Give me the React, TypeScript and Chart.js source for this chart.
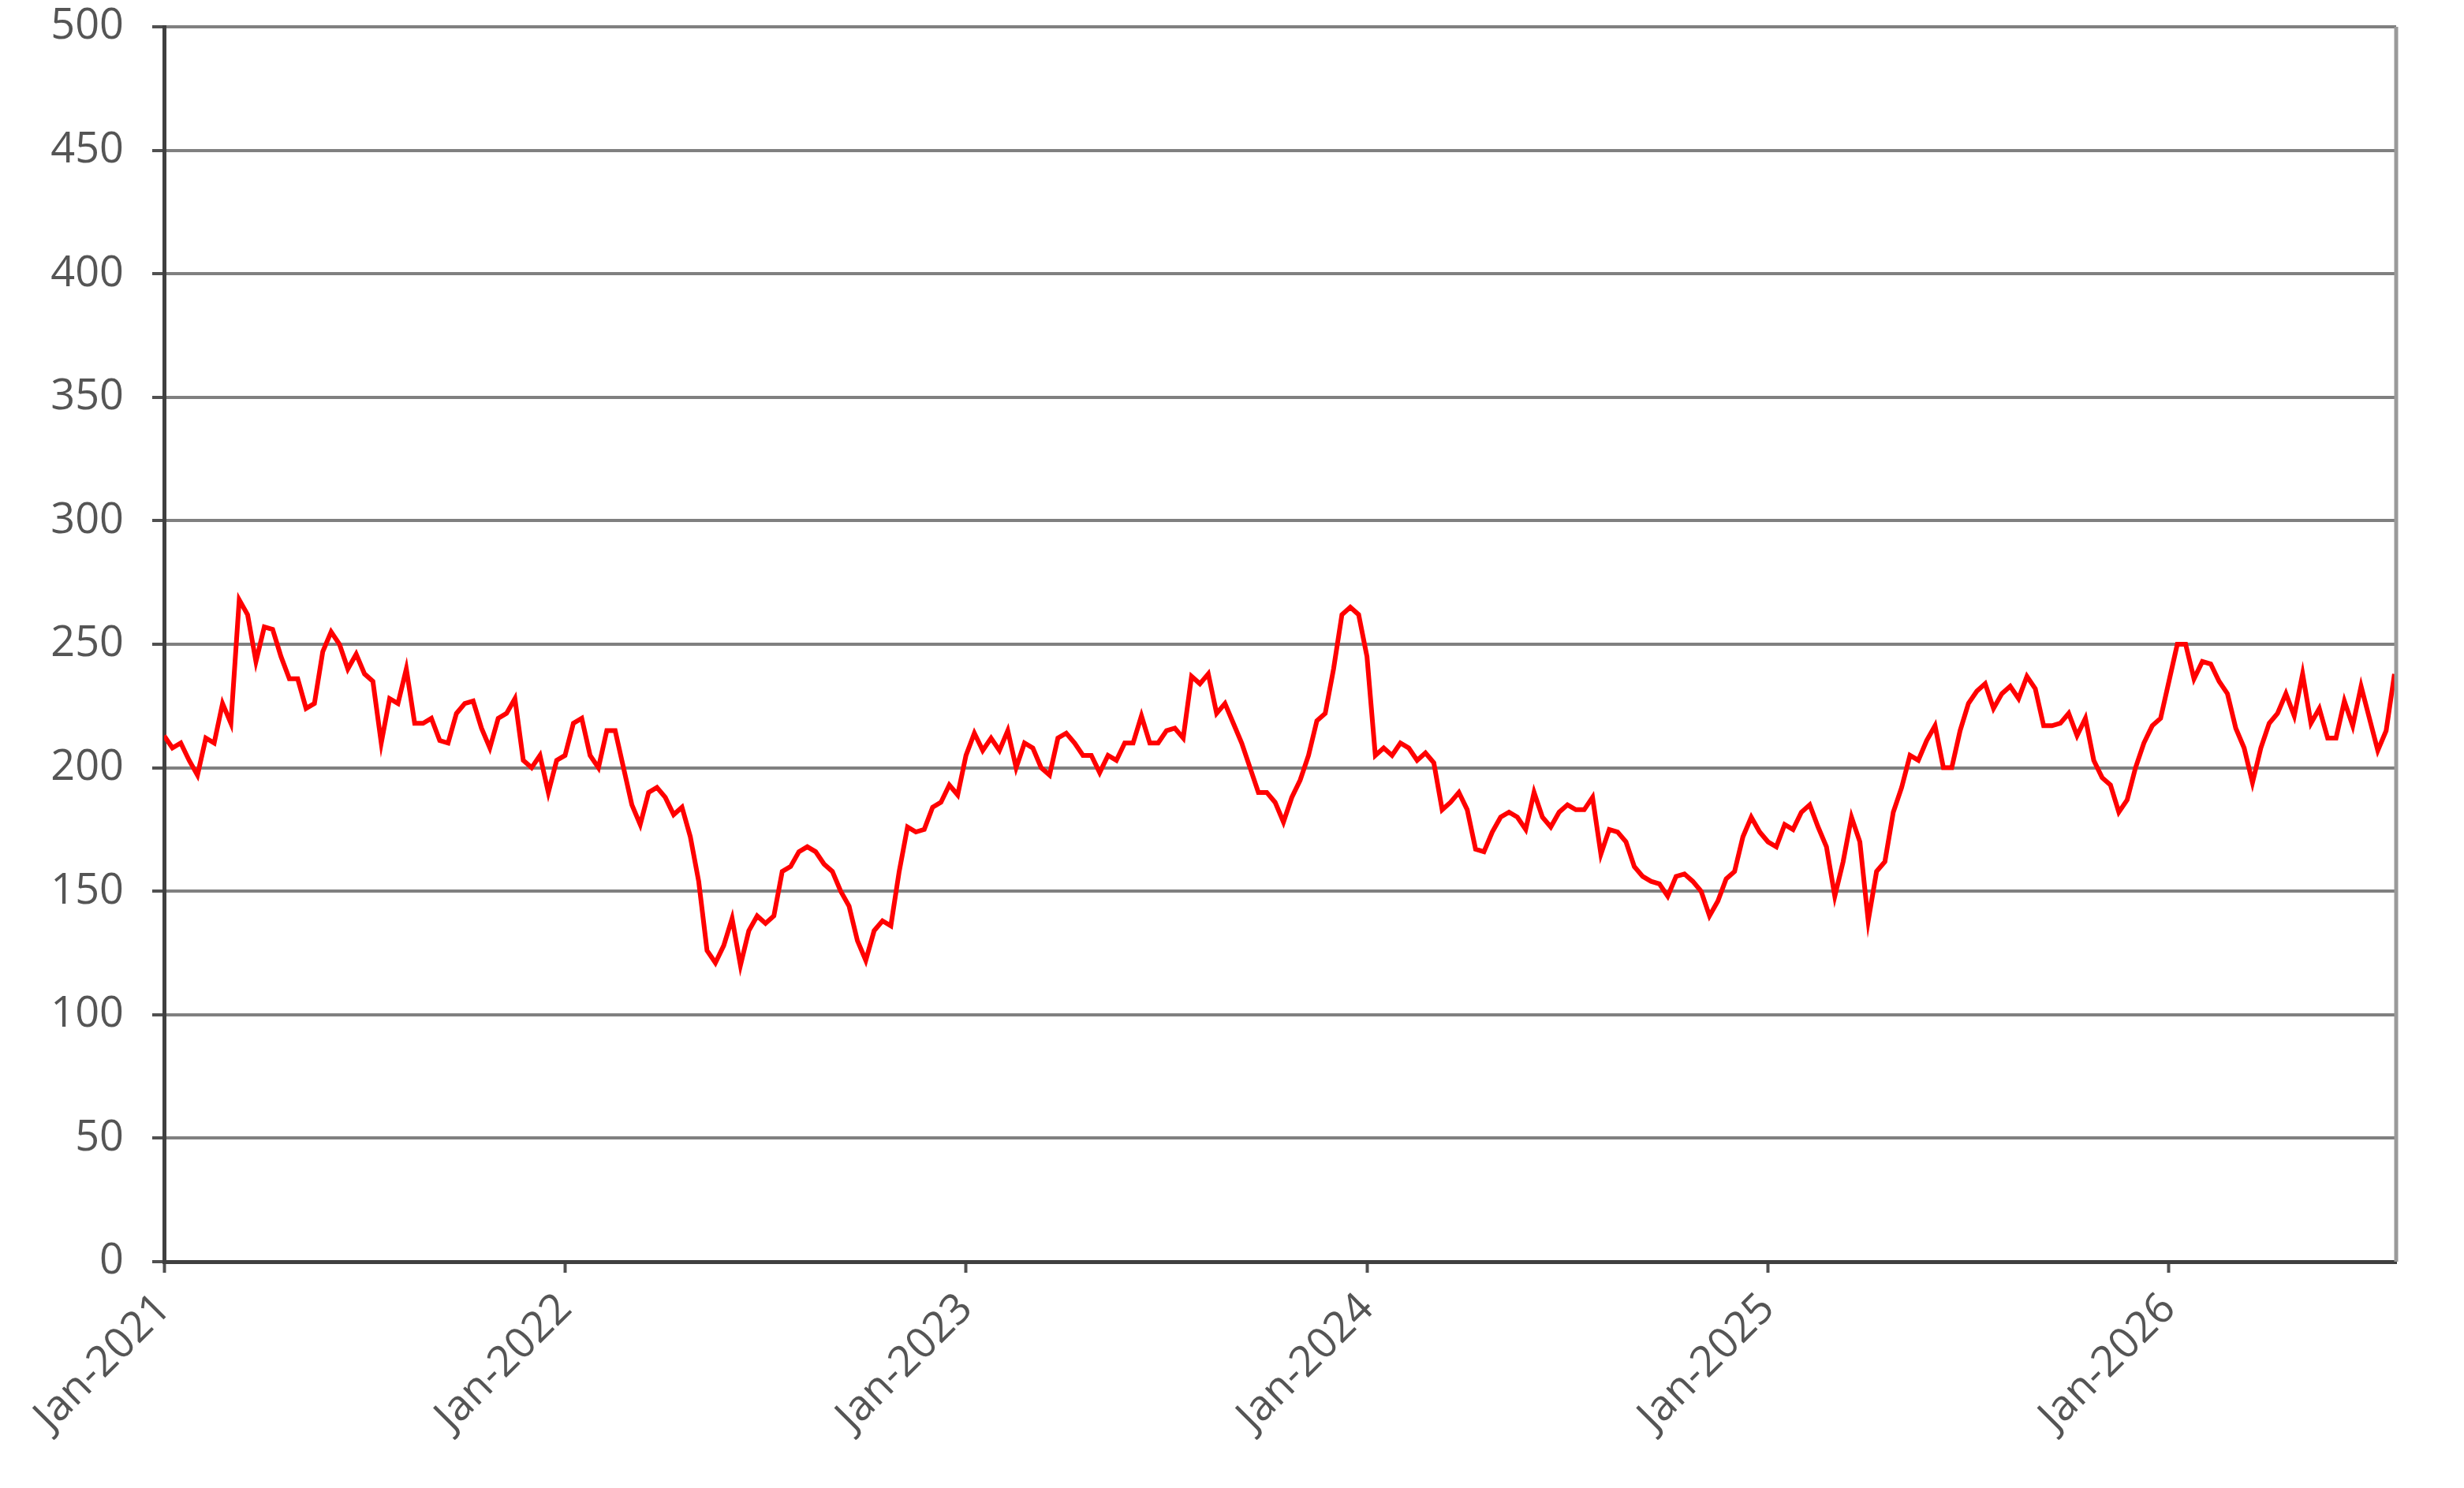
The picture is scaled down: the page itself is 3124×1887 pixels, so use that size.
import { useEffect, useRef } from "react"
import { Chart, registerables } from "chart.js"

Chart.register(...registerables)

// weekly-ish readings (4 per month), starting Jan of each year
const values2021 = [
  213, 208, 210, 203, 197, 212, 210, 226, 218, 268, 262, 243,
  257, 256, 245, 236, 236, 224, 226, 247, 255, 250, 240, 246,
  238, 235, 210, 228, 226, 240, 218, 218, 220, 211, 210, 222,
  226, 227, 216, 208, 220, 222, 228, 203, 200, 205, 190, 203,
]
const values2022 = [
  205, 218, 220, 205, 200, 215, 215, 200, 185, 177, 190, 192,
  188, 181, 184, 172, 154, 126, 121, 128, 139, 120, 134, 140,
  137, 140, 158, 160, 166, 168, 166, 161, 158, 150, 144, 130,
  122, 134, 138, 136, 158, 176, 174, 175, 184, 186, 193, 189,
]
const values2023 = [
  205, 214, 207, 212, 207, 215, 200, 210, 208, 200, 197, 212,
  214, 210, 205, 205, 198, 205, 203, 210, 210, 221, 210, 210,
  215, 216, 212, 237, 234, 238, 222, 226, 218, 210, 200, 190,
  190, 186, 178, 188, 195, 205, 219, 222, 240, 262, 265, 262,
]
const values2024 = [
  245, 205, 208, 205, 210, 208, 203, 206, 202, 183, 186, 190,
  183, 167, 166, 174, 180, 182, 180, 175, 190, 180, 176, 182,
  185, 183, 183, 188, 165, 175, 174, 170, 160, 156, 154, 153,
  148, 156, 157, 154, 150, 140, 146, 155, 158, 172, 180, 174,
]
const values2025 = [
  170, 168, 177, 175, 182, 185, 176, 168, 148, 162, 180, 170,
  138, 158, 162, 182, 192, 205, 203, 211, 217, 200, 200, 215,
  226, 231, 234, 224, 230, 233, 228, 237, 232, 217, 217, 218,
  222, 213, 220, 203, 196, 193, 182, 187, 200, 210, 217, 220,
]
const values2026 = [
  235, 250, 250, 236, 243, 242, 235, 230, 216, 208, 194, 208,
  218, 222, 230, 221, 238, 218, 224, 212, 212, 227, 217, 233,
  220, 207, 215, 238,
]

const yearSeries = [values2021, values2022, values2023, values2024, values2025, values2026]
const firstYear = 2021
const yearTicks = [0, 12, 24, 36, 48, 60]
const lastMonth = 66.8

export default function App() {
  const chartRef = useRef<HTMLCanvasElement>(null)
  const chartInstance = useRef<Chart | null>(null)

  useEffect(() => {
    if (!chartRef.current) return
    if (chartInstance.current) chartInstance.current.destroy()

    const points: { x: number; y: number }[] = []
    yearSeries.forEach((vals, yi) => {
      vals.forEach((v, i) => points.push({ x: yi * 12 + i * 0.25, y: v }))
    })

    Chart.defaults.font.family = "'Open Sans', 'Liberation Sans', sans-serif"

    const rightBorder = {
      id: "rightBorder",
      afterDraw(chart: Chart) {
        const { ctx, chartArea } = chart
        ctx.save()
        ctx.strokeStyle = "#9a9a9a"
        ctx.lineWidth = 5
        ctx.beginPath()
        ctx.moveTo(chartArea.right, chartArea.top)
        ctx.lineTo(chartArea.right, chartArea.bottom)
        ctx.stroke()
        ctx.restore()
      },
    }

    chartInstance.current = new Chart(chartRef.current, {
      type: "line",
      data: {
        datasets: [
          {
            data: points,
            borderColor: "#ff0000",
            borderWidth: 6,
            pointRadius: 0,
            tension: 0,
          },
        ],
      },
      options: {
        animation: false,
        responsive: true,
        maintainAspectRatio: false,
        layout: { padding: { top: 34, right: 86, left: 0, bottom: 0 } },
        plugins: { legend: { display: false }, tooltip: { enabled: false } },
        scales: {
          x: {
            type: "linear",
            min: 0,
            max: lastMonth,
            afterBuildTicks: (scale: any) => {
              scale.ticks = yearTicks.map((v) => ({ value: v }))
            },
            afterFit: (scale: any) => {
              scale.height = 287
            },
            ticks: {
              autoSkip: false,
              maxRotation: 45,
              minRotation: 45,
              padding: 14,
              color: "#555555",
              font: { size: 54 },
              callback: (v: any) => "Jan-" + (firstYear + Math.round(Number(v) / 12)),
            },
            grid: {
              display: true,
              drawOnChartArea: false,
              drawTicks: true,
              tickLength: 14,
              tickColor: "#505050",
              tickWidth: 4,
            },
            border: { display: true, color: "#404040", width: 5 },
          },
          y: {
            min: 0,
            max: 500,
            afterFit: (scale: any) => {
              scale.width = 208
              scale.paddingTop = 0
              scale.paddingBottom = 0
            },
            ticks: {
              stepSize: 50,
              padding: 36,
              color: "#555555",
              font: { size: 54 },
            },
            grid: {
              color: "#808080",
              lineWidth: 4,
              tickLength: 15,
              tickColor: "#505050",
              tickWidth: 4,
            },
            border: { display: true, color: "#404040", width: 5 },
          },
        },
      },
      plugins: [rightBorder],
    })

    return () => {
      if (chartInstance.current) {
        chartInstance.current.destroy()
        chartInstance.current = null
      }
    }
  }, [])

  return (
    <div style={{ position: "fixed", left: 0, top: 0, width: "3124px", height: "1887px", background: "#ffffff" }}>
      <canvas ref={chartRef} />
    </div>
  )
}
